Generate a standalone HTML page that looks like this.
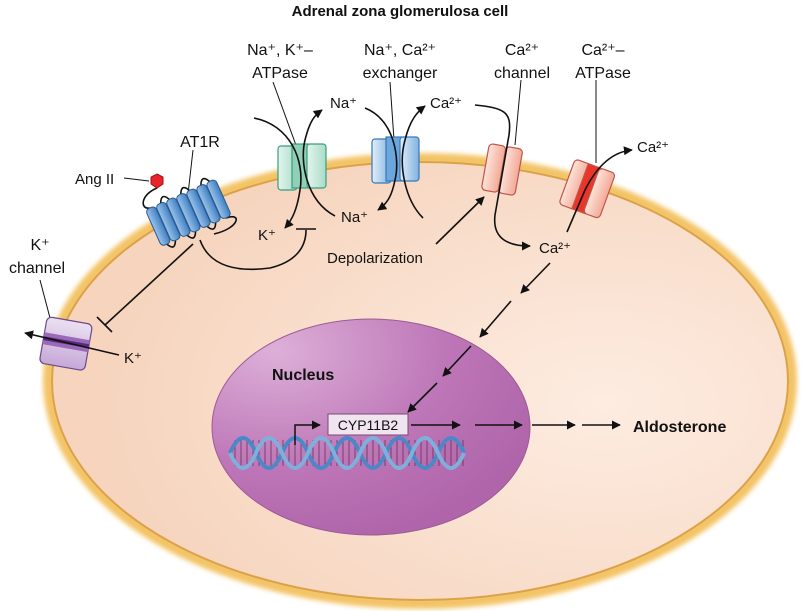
<!DOCTYPE html>
<html><head><meta charset="utf-8"><style>
body{margin:0;background:#fff}
svg{display:block}
text{font-family:"Liberation Sans",Arial,sans-serif;fill:#111}
</style></head><body>
<svg width="805" height="611" viewBox="0 0 805 611" xmlns="http://www.w3.org/2000/svg">
<defs>
<radialGradient id="cell" cx="0.75" cy="0.55" r="0.7">
<stop offset="0" stop-color="#fdece1"/><stop offset="1" stop-color="#f6d4bd"/></radialGradient>
<radialGradient id="nuc" cx="0.2" cy="0.15" r="0.9">
<stop offset="0" stop-color="#ddb0d8"/><stop offset="0.6" stop-color="#bd76b7"/><stop offset="1" stop-color="#b065aa"/></radialGradient>
<filter id="bl"><feGaussianBlur stdDeviation="2.5"/></filter>
<marker id="ah" viewBox="0 0 10 10" refX="9" refY="5" markerWidth="9" markerHeight="9" markerUnits="userSpaceOnUse" orient="auto"><path d="M0,0L10,5L0,10z" fill="#111"/></marker>
<linearGradient id="gr" x1="0" x2="1"><stop offset="0" stop-color="#e4f5ee"/><stop offset="1" stop-color="#a8dcc6"/></linearGradient>
<linearGradient id="bu" x1="0" x2="1"><stop offset="0" stop-color="#e2eef9"/><stop offset="1" stop-color="#7fb2e0"/></linearGradient>
<linearGradient id="pe" x1="0" x2="1"><stop offset="0" stop-color="#fde4da"/><stop offset="1" stop-color="#f2a996"/></linearGradient>
<linearGradient id="pu" x1="0" x2="0" y1="0" y2="1"><stop offset="0" stop-color="#ece0f2"/><stop offset="1" stop-color="#c6a8d6"/></linearGradient>
<linearGradient id="cy" x1="0" x2="1"><stop offset="0" stop-color="#9cc3ea"/><stop offset="1" stop-color="#3f7fc2"/></linearGradient>
</defs>

<!-- cell -->
<ellipse cx="420" cy="381" rx="371" ry="222" fill="none" stroke="#f0b540" stroke-width="12" filter="url(#bl)" opacity="0.8"/>
<ellipse cx="420" cy="381" rx="368" ry="219" fill="url(#cell)" stroke="#dca24a" stroke-width="2"/>

<!-- nucleus -->
<ellipse cx="371" cy="427" rx="159" ry="108" fill="url(#nuc)" stroke="#9c5c96" stroke-width="1"/>
<text x="272" y="380" font-size="16" font-weight="bold">Nucleus</text>

<!-- DNA -->
<g>
<g stroke="#5a2a4a" stroke-width="1" opacity="0.7">
<path d="M235,440V466M241,440V466M247,440V466M253,440V466M259,440V466M265,440V466M271,440V466M277,440V466M283,440V466M289,440V466M295,440V466M301,440V466M307,440V466M313,440V466M319,440V466M325,440V466M331,440V466M337,440V466M343,440V466M349,440V466M355,440V466M361,440V466M367,440V466M373,440V466M379,440V466M385,440V466M391,440V466M397,440V466M403,440V466M409,440V466M415,440V466M421,440V466M427,440V466M433,440V466M439,440V466M445,440V466M451,440V466M457,440V466M463,440V466"/>
</g>
<path d="M230,453 Q243,423 256,453 T282,453 T308,453 T334,453 T360,453 T386,453 T412,453 T438,453 T464,453" fill="none" stroke="#4a88c8" stroke-width="4"/>
<path d="M230,453 Q243,483 256,453 T282,453 T308,453 T334,453 T360,453 T386,453 T412,453 T438,453 T464,453" fill="none" stroke="#7fb0dc" stroke-width="4"/>
</g>
<path d="M295,445V425H320" fill="none" stroke="#111" stroke-width="1.5" marker-end="url(#ah)"/>
<rect x="328" y="414" width="80" height="21" fill="#efe4ef" stroke="#7a4a76" stroke-width="1"/>
<text x="368" y="430" font-size="14" text-anchor="middle">CYP11B2</text>

<g stroke="#111" stroke-width="1.6" fill="none" marker-end="url(#ah)">
<line x1="411" y1="425" x2="460" y2="425"/>
<line x1="475" y1="425" x2="522" y2="425"/>
<line x1="532" y1="425" x2="575" y2="425"/>
<line x1="582" y1="425" x2="620" y2="425"/>
<line x1="550" y1="263" x2="521" y2="293"/>
<line x1="511" y1="301" x2="480" y2="337"/>
<line x1="471" y1="346" x2="443" y2="376"/>
<line x1="437" y1="383" x2="408" y2="412"/>
</g>
<text x="633" y="432" font-size="16" font-weight="bold">Aldosterone</text>

<!-- title & labels -->
<text x="400" y="16" font-size="15" font-weight="bold" text-anchor="middle">Adrenal zona glomerulosa cell</text>
<g font-size="16" text-anchor="middle">
<text x="280" y="55">Na⁺, K⁺–</text><text x="280" y="78">ATPase</text>
<text x="400" y="55">Na⁺, Ca²⁺</text><text x="400" y="78">exchanger</text>
<text x="522" y="55">Ca²⁺</text><text x="522" y="78">channel</text>
<text x="603" y="55">Ca²⁺–</text><text x="603" y="78">ATPase</text>
<text x="40" y="250">K⁺</text><text x="37" y="273">channel</text>
<text x="200" y="147">AT1R</text>
</g>
<g font-size="15">
<text x="75" y="184">Ang II</text>
<text x="330" y="108">Na⁺</text>
<text x="341" y="222">Na⁺</text>
<text x="258" y="240">K⁺</text>
<text x="430" y="108">Ca²⁺</text>
<text x="327" y="263">Depolarization</text>
<text x="539" y="253">Ca²⁺</text>
<text x="637" y="152">Ca²⁺</text>
<text x="124" y="363">K⁺</text>
</g>

<!-- leader lines -->
<g stroke="#111" stroke-width="1" fill="none">
<line x1="273" y1="82" x2="297" y2="148"/>
<line x1="390" y1="82" x2="394" y2="140"/>
<line x1="521" y1="80" x2="515" y2="145"/>
<line x1="596" y1="80" x2="596" y2="163"/>
<line x1="40" y1="280" x2="50" y2="318"/>
<line x1="193" y1="150" x2="187" y2="203"/>
<line x1="124" y1="178" x2="149" y2="181"/>
</g>

<!-- Na/K ATPase -->
<g stroke="#3a9c80" stroke-width="1.2">
<rect x="278" y="146" width="19" height="44" rx="3" fill="url(#gr)"/>
<rect x="292" y="144" width="17" height="44" fill="#8fd0b6"/>
<rect x="307" y="144" width="19" height="44" rx="3" fill="url(#gr)"/>
</g>
<!-- exchanger -->
<g stroke="#3a78b8" stroke-width="1.2">
<rect x="372" y="139" width="19" height="44" rx="3" fill="url(#bu)"/>
<rect x="386" y="137" width="17" height="44" fill="#6aa7dc"/>
<rect x="400" y="137" width="19" height="44" rx="3" fill="url(#bu)"/>
</g>
<!-- Ca channel -->
<g stroke="#c0564a" stroke-width="1.2" transform="rotate(10 502 170)">
<rect x="485" y="146" width="17" height="47" rx="4" fill="url(#pe)"/>
<rect x="502" y="146" width="17" height="47" rx="4" fill="url(#pe)"/>
</g>
<!-- Ca ATPase -->
<g stroke="#c0564a" stroke-width="1.2" transform="rotate(20 588 188)">
<rect x="566" y="165" width="17" height="48" rx="4" fill="url(#pe)"/>
<rect x="580" y="165" width="14" height="48" fill="#e8372a"/>
<rect x="592" y="165" width="17" height="48" rx="4" fill="url(#pe)"/>
</g>
<!-- K channel -->
<g stroke="#6a4a8c" stroke-width="1.2" transform="rotate(10 65 343)">
<rect x="43" y="320" width="46" height="47" rx="5" fill="url(#pu)"/>
<rect x="43" y="336" width="46" height="12" fill="#9a6ab8" stroke="none"/>
<rect x="43" y="340" width="46" height="4" fill="#5a2a7a" stroke="none"/>
</g>

<!-- AT1R -->
<g stroke="#111" stroke-width="1.6" fill="none">
<path d="M157,188 C140,195 140,210 150,208"/>
<path d="M226,218 C242,212 240,228 214,234"/>
</g>
<g transform="rotate(-24 190 212)">
<g stroke="#111" stroke-width="1.6" fill="none">
<path d="M166,194 q5.5,-14 11,0 M188,194 q5.5,-14 11,0 M210,194 q5.5,-14 11,0"/>
<path d="M155,230 q5.5,14 11,0 M177,230 q5.5,14 11,0 M199,230 q5.5,14 11,0"/>
</g>
<g stroke="#2a5a90" stroke-width="1" fill="url(#cy)">
<rect x="150" y="192" width="10.5" height="40" rx="4"/>
<rect x="161" y="192" width="10.5" height="40" rx="4"/>
<rect x="172" y="192" width="10.5" height="40" rx="4"/>
<rect x="183" y="192" width="10.5" height="40" rx="4"/>
<rect x="194" y="192" width="10.5" height="40" rx="4"/>
<rect x="205" y="192" width="10.5" height="40" rx="4"/>
<rect x="216" y="192" width="10.5" height="40" rx="4"/>
</g>
</g>
<polygon points="157,174 163,177 163,184 157,188 151,184 151,177" fill="#e8242a" stroke="#a01010" stroke-width="1"/>

<!-- curves -->
<g stroke="#111" stroke-width="1.6" fill="none">
<path d="M254,118 C290,125 305,160 300,190 C297,210 292,220 285,228" marker-end="url(#ah)"/>
<path d="M335,216 C305,200 300,160 305,140 C310,120 315,115 322,110" marker-end="url(#ah)"/>
<path d="M365,108 C395,120 400,160 395,180 C392,195 388,203 378,210" marker-end="url(#ah)"/>
<path d="M423,218 C405,200 398,165 405,140 C410,120 417,112 425,106" marker-end="url(#ah)"/>
<path d="M475,105 C505,108 512,112 509,135 L495,215 C492,240 510,246 530,246" marker-end="url(#ah)"/>
<path d="M567,232 L585,190 C595,170 610,152 632,150" marker-end="url(#ah)"/>
<path d="M436,244 L484,197" marker-end="url(#ah)"/>
<path d="M119,355 L25,333" marker-end="url(#ah)"/>
<path d="M200,240 C210,268 240,272 270,268 C295,262 306,248 306,230"/>
<line x1="296" y1="229" x2="316" y2="229"/>
<line x1="193" y1="244" x2="105" y2="325"/>
<line x1="97" y1="317" x2="112" y2="332"/>
</g>
</svg>
</body></html>
